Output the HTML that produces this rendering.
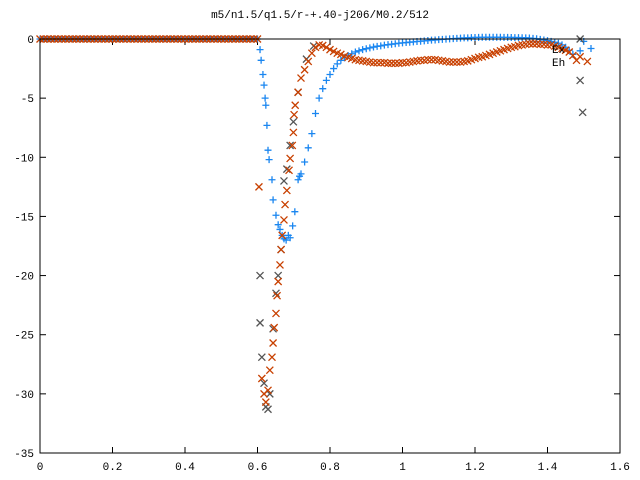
<!DOCTYPE html>
<html><head><meta charset="utf-8"><style>
body{margin:0;background:#fff}
svg{display:block}
text{font-family:"Liberation Mono",monospace;font-size:11px;fill:#000}
</style></head><body>
<svg id="chart" width="640" height="480">
<rect x="0" y="0" width="640" height="480" fill="#fff"/>
<text x="320" y="18" text-anchor="middle">m5/n1.5/q1.5/r-+.40-j206/M0.2/512</text>
<g id="axes"></g>
<g id="series"></g>
<rect x="40" y="39" width="580" height="414" fill="none" stroke="#000" stroke-width="1"/>
<text x="552" y="53">Ex</text>
<text x="552" y="66">Eh</text>
</svg>
<script>
const xTicks=[0,0.2,0.4,0.6,0.8,1,1.2,1.4,1.6];
const xTickLabels=["0","0.2","0.4","0.6","0.8","1","1.2","1.4","1.6"];
const yTicks=[0,-5,-10,-15,-20,-25,-30,-35];
const yTickLabels=["0","-5","-10","-15","-20","-25","-30","-35"];
const flatX=[0,0.01,0.02,0.03,0.04,0.05,0.06,0.07,0.08,0.09,0.10,0.11,0.12,0.13,0.14,0.15,0.16,0.17,0.18,0.19,0.20,0.21,0.22,0.23,0.24,0.25,0.26,0.27,0.28,0.29,0.30,0.31,0.32,0.33,0.34,0.35,0.36,0.37,0.38,0.39,0.40,0.41,0.42,0.43,0.44,0.45,0.46,0.47,0.48,0.49,0.50,0.51,0.52,0.53,0.54,0.55,0.56,0.57,0.58,0.59,0.60];
const flatY=[0,0,0,0,0,0,0,0,0,0,0,0,0,0,0,0,0,0,0,0,0,0,0,0,0,0,0,0,0,0,0,0,0,0,0,0,0,0,0,0,0,0,0,0,0,0,0,0,0,0,0,0,0,0,0,0,0,0,0,0,0];
const blueX=[0.607,0.610,0.615,0.618,0.621,0.623,0.626,0.629,0.632,0.640,0.643,0.651,0.657,0.662,0.668,0.673,0.679,0.685,0.690,0.697,0.703,0.712,0.716,
0.72,0.73,0.74,0.75,0.76,0.77,0.78,0.79,0.80,0.81,0.82,0.83,0.84,0.85,0.86,0.87,0.88,0.89,0.90,0.91,0.92,0.93,0.94,0.95,0.96,0.97,0.98,0.99,1.00,1.01,1.02,1.03,1.04,1.05,1.06,1.07,1.08,1.09,1.10,1.11,1.12,1.13,1.14,1.15,1.16,1.17,1.18,1.19,1.20,1.21,1.22,1.23,1.24,1.25,1.26,1.27,1.28,1.29,1.30,1.31,1.32,1.33,1.34,1.35,1.36,1.37,1.38,1.39,1.40,1.41,1.42,1.43,1.44,1.45,1.46,1.47,1.49,1.50,1.52];
const blueY=[-0.9,-1.8,-3,-3.9,-5,-5.6,-7.3,-9.4,-10.2,-11.9,-13.6,-14.9,-15.7,-16.1,-16.6,-16.9,-17,-16.6,-16.8,-15.8,-14.6,-11.9,-11.6,
-11.4,-10.4,-9.2,-8.0,-6.3,-5.0,-4.2,-3.5,-3.0,-2.5,-2.1,-1.8,-1.6,-1.4,-1.25,-1.1,-1.0,-0.9,-0.82,-0.75,-0.68,-0.62,-0.58,-0.52,-0.48,-0.44,-0.4,-0.36,-0.33,-0.3,-0.27,-0.24,-0.21,-0.19,-0.16,-0.13,-0.1,-0.08,-0.05,-0.03,-0.01,0.01,0.03,0.05,0.07,0.09,0.1,0.12,0.13,0.14,0.15,0.15,0.15,0.15,0.15,0.15,0.14,0.14,0.13,0.12,0.12,0.11,0.1,0.08,0.05,0.02,-0.03,-0.08,-0.14,-0.2,-0.28,-0.36,-0.5,-0.7,-0.95,-1.3,-1.0,-0.2,-0.8];
const orangeX=[0.604,0.612,0.618,0.623,0.629,0.634,0.640,0.643,0.646,0.651,0.654,0.657,0.662,0.665,0.668,0.673,0.676,0.681,0.687,0.690,0.696,0.699,0.701,0.704,0.712,
0.72,0.73,0.74,0.75,0.76,0.77,0.78,0.79,0.80,0.81,0.82,0.83,0.84,0.85,0.86,0.87,0.88,0.89,0.90,0.91,0.92,0.93,0.94,0.95,0.96,0.97,0.98,0.99,1.00,1.01,1.02,1.03,1.04,1.05,1.06,1.07,1.08,1.09,1.10,1.11,1.12,1.13,1.14,1.15,1.16,1.17,1.18,1.19,1.20,1.21,1.22,1.23,1.24,1.25,1.26,1.27,1.28,1.29,1.30,1.31,1.32,1.33,1.34,1.35,1.36,1.37,1.38,1.39,1.40,1.41,1.42,1.43,1.44,1.45,1.46,1.47,1.48,1.49,1.51];
const orangeY=[-12.5,-28.7,-30,-30.7,-29.7,-28,-26.9,-25.7,-24.4,-23.2,-21.7,-20.5,-19.1,-17.8,-16.6,-15.3,-14,-12.8,-11.1,-10.1,-9,-7.9,-6.4,-5.6,-4.5,
-3.3,-2.6,-1.9,-1.2,-0.7,-0.5,-0.55,-0.7,-0.9,-1.05,-1.2,-1.3,-1.45,-1.55,-1.65,-1.75,-1.8,-1.85,-1.9,-1.95,-2.0,-2.0,-2.0,-2.0,-2.05,-2.05,-2.05,-2.05,-2.0,-2.0,-1.95,-1.9,-1.85,-1.8,-1.8,-1.75,-1.75,-1.75,-1.8,-1.85,-1.9,-1.95,-1.95,-1.95,-1.95,-1.9,-1.85,-1.75,-1.65,-1.55,-1.5,-1.4,-1.3,-1.2,-1.1,-1.0,-0.9,-0.8,-0.7,-0.65,-0.55,-0.5,-0.45,-0.4,-0.4,-0.4,-0.45,-0.45,-0.5,-0.5,-0.6,-0.7,-0.8,-0.95,-1.1,-1.4,-1.8,-1.5,-1.9];
const grayX=[0.607,0.607,0.612,0.618,0.623,0.629,0.634,0.643,0.651,0.657,0.665,0.673,0.681,0.690,0.699,0.712,0.735,0.755,1.49,1.49,1.497];
const grayY=[-20,-24,-26.9,-29.1,-31.1,-31.3,-30,-24.5,-21.5,-20,-17.8,-12,-11,-9,-7,-4.5,-1.7,-0.6,0,-3.5,-6.2];

const L=40,R=620,T=39,B=453;
const sx=v=>L+(v-0)/(1.6-0)*(R-L);
const sy=v=>T+(0-v)/(0- -35)*(B-T);
const NS="http://www.w3.org/2000/svg";
const axes=document.getElementById('axes');
const ser=document.getElementById('series');
function mk(tag,attrs,parent){const e=document.createElementNS(NS,tag);for(const k in attrs)e.setAttribute(k,attrs[k]);parent.appendChild(e);return e;}
xTicks.forEach((v,i)=>{
  const x=sx(v);
  const t1=mk('line',{x1:x,y1:B,x2:x,y2:B-6,stroke:'#000'},axes);
  
  
  const t2=mk('line',{x1:x,y1:T,x2:x,y2:T+6,stroke:'#000'},axes);
  
  
  const tx=mk('text',{x:x,y:B+17,'text-anchor':'middle'},axes);
  tx.textContent=xTickLabels[i];
  
  
});
yTicks.forEach((v,i)=>{
  const y=sy(v);
  const t1=mk('line',{x1:L,y1:y,x2:L+6,y2:y,stroke:'#000'},axes);
  
  
  const t2=mk('line',{x1:R,y1:y,x2:R-6,y2:y,stroke:'#000'},axes);
  
  
  const tx=mk('text',{x:L-6,y:y+4,'text-anchor':'end'},axes);
  tx.textContent=yTickLabels[i];
  
  
});
function plus(x,y,c,name){
  const p=mk('path',{d:`M${x-3.5},${y}h7M${x},${y-3.5}v7`,stroke:c,'stroke-width':1.3,fill:'none'},ser);
  
  
}
function cross(x,y,c,name){
  const p=mk('path',{d:`M${x-3.5},${y-3.5}l7,7M${x-3.5},${y+3.5}l7,-7`,stroke:c,'stroke-width':1.3,fill:'none'},ser);
  
  
}
flatX.forEach((v,i)=>plus(sx(v),sy(flatY[i]),'#1a86f0','blue-point'));
blueX.forEach((v,i)=>plus(sx(v),sy(blueY[i]),'#1a86f0','blue-point'));
grayX.forEach((v,i)=>cross(sx(v),sy(grayY[i]),'#555','gray-point'));
flatX.forEach((v,i)=>cross(sx(v),sy(flatY[i]),'#c84000','orange-point'));
orangeX.forEach((v,i)=>cross(sx(v),sy(orangeY[i]),'#c84000','orange-point'));
</script>
</body></html>
